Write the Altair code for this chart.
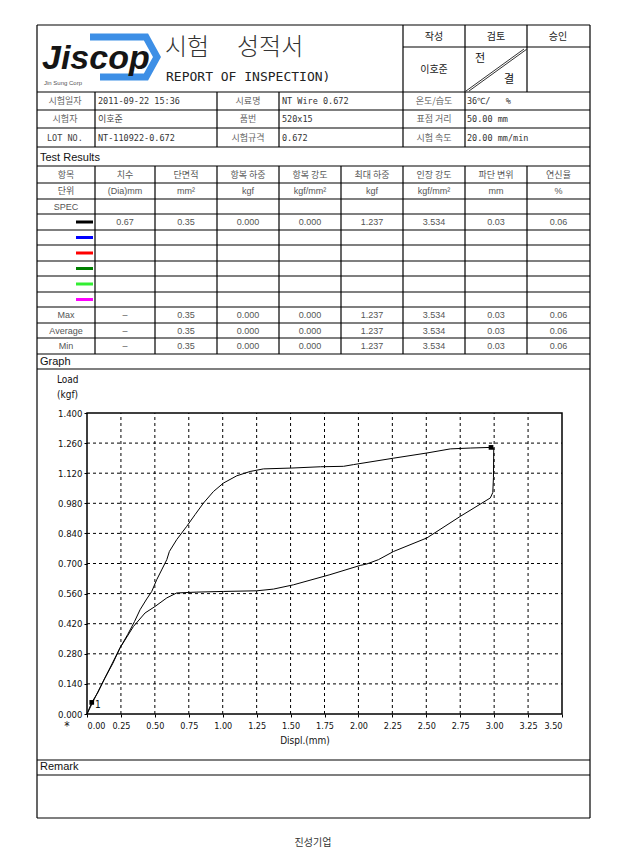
import altair as alt
import pandas as pd

# ---------------- values ----------------
disp = [0.0, 0.035, 0.08, 0.13, 0.19, 0.243, 0.30, 0.35, 0.391, 0.44, 0.477, 0.514, 0.55, 0.588,
        0.607, 0.661, 0.735, 0.796, 0.858, 0.932, 1.005, 1.104, 1.202, 1.30, 1.51, 1.72, 1.89,
        1.964, 2.26, 2.505, 2.677, 2.824, 2.977, 2.997, 2.995, 2.99, 2.972,
        2.75, 2.505, 2.259, 2.148, 2.063, 2.013, 1.79, 1.522, 1.374, 1.251, 1.005, 0.809,
        0.661, 0.588, 0.501, 0.428, 0.342, 0.243, 0.15, 0.07, 0.0]
load = [0.0, 0.054, 0.10, 0.165, 0.235, 0.307, 0.37, 0.43, 0.485, 0.535, 0.57, 0.625, 0.67, 0.718,
        0.756, 0.811, 0.873, 0.927, 0.981, 1.035, 1.074, 1.108, 1.128, 1.140, 1.144, 1.150, 1.152,
        1.160, 1.190, 1.214, 1.233, 1.237, 1.240, 1.237, 1.10, 1.03, 1.005,
        0.919, 0.819, 0.756, 0.718, 0.698, 0.691, 0.648, 0.601, 0.581, 0.573, 0.570, 0.567,
        0.563, 0.54, 0.50, 0.47, 0.407, 0.307, 0.19, 0.09, 0.0]
marker_disp = [0.035, 2.977]
marker_load = [0.054, 1.240]

x_ticks = [0.0, 0.25, 0.5, 0.75, 1.0, 1.25, 1.5, 1.75, 2.0, 2.25, 2.5, 2.75, 3.0, 3.25, 3.5]
y_ticks = [0.0, 0.14, 0.28, 0.42, 0.56, 0.70, 0.84, 0.98, 1.12, 1.26, 1.40]

table_headers = ["항목", "치수", "단면적", "항복 하중", "항복 강도", "최대 하중", "인장 강도", "파단 변위", "연신율"]
table_units = ["단위", "(Dia)mm", "mm²", "kgf", "kgf/mm²", "kgf", "kgf/mm²", "mm", "%"]
sample_values = ["0.67", "0.35", "0.000", "0.000", "1.237", "3.534", "0.03", "0.06"]
stat_names = ["Max", "Average", "Min"]
stat_values = ["–", "0.35", "0.000", "0.000", "1.237", "3.534", "0.03", "0.06"]
swatch_colors = ["#000000", "#0000ff", "#ff0000", "#008000", "#33ee33", "#ff00ff"]

info_labels = [["시험일자", "시료명", "온도/습도"],
               ["시험자", "품번", "표점 거리"],
               ["LOT NO.", "시험규격", "시험 속도"]]
info_values = [["2011-09-22 15:36", "NT Wire 0.672", "36℃/\u00a0\u00a0\u00a0%"],
               ["이호준", "520x15", "50.00 mm"],
               ["NT-110922-0.672", "0.672", "20.00 mm/min"]]
title_words = ["시험", "성적서"]

# ---------------- layout (page pixel coordinates) ----------------
W, H = 610, 848
LFT, RGT = 37, 590
col_edges = [37, 95, 155, 217, 279, 341, 403, 465, 527, 590]
col_mid = [(a + b) / 2 for a, b in zip(col_edges[:-1], col_edges[1:])]
h_full = [25, 92, 110, 128, 147, 166, 183, 199, 214, 230, 245, 261, 276, 292, 307, 323, 338,
          354, 369, 760, 775, 818]
info_y = [101, 119, 137.5]
info_label_x = [65, 248, 434]
info_value_x = [98, 282, 467]
head_y = [174.5, 191, 206.5]
sample_y = [222, 237.5, 253, 268.5, 284, 299.5]
stat_y = [315, 330.5, 346]
title_x = [165, 237]
plot_x = [79, 554]     # chart-pixel range of 0..3.5 mm
plot_y = [706, 405]    # chart-pixel range of 0..1.4 kgf

KR = "Noto Sans CJK KR"
SANS = "Liberation Sans"
MONO = "DejaVu Sans Mono"
NARROW = "'Liberation Sans Narrow', 'DejaVu Sans Condensed', 'Liberation Sans', sans-serif"

pscale_x = alt.Scale(domain=[8, 8 + W], range=[0, W], nice=False, zero=False)
pscale_y = alt.Scale(domain=[8, 8 + H], range=[0, H], nice=False, zero=False)


def PX(f):
    return alt.X(f, type="quantitative", scale=pscale_x, axis=None)


def PY(f):
    return alt.Y(f, type="quantitative", scale=pscale_y, axis=None)


def texts(rows, font, align="center", weight="normal", style="normal"):
    df = pd.DataFrame(rows, columns=["x", "y", "t", "s", "c"])
    return alt.Chart(df).mark_text(font=font, align=align, baseline="middle",
                                   fontWeight=weight, fontStyle=style).encode(
        x=PX("x"), y=PY("y"), text="t:N",
        size=alt.Size("s:Q", scale=None), color=alt.Color("c:N", scale=None))


# ---- rules of the form ----
hl = [(LFT, RGT, y, y) for y in h_full] + [(403, RGT, 47, 47)]
vl = [(LFT, LFT, 25, 818), (RGT, RGT, 25, 818)]
vl += [(x, x, 25, 92) for x in [403, 465, 527]]
vl += [(x, x, 92, 147) for x in [95, 217, 279, 403, 465]]
vl += [(x, x, 166, 354) for x in col_edges[1:-1]]
rules_df = pd.DataFrame(hl + vl, columns=["x1", "x2", "y1", "y2"])
rules = alt.Chart(rules_df).mark_rule(color="black", strokeWidth=1.2).encode(
    x=PX("x1"), x2="x2", y=PY("y1"), y2="y2")

diag_df = pd.DataFrame([(466, 524, 91, 49), (469, 527, 91, 49)], columns=["x1", "x2", "y1", "y2"])
diag = alt.Chart(diag_df).mark_rule(color="#333", strokeWidth=1).encode(
    x=PX("x1"), x2="x2", y=PY("y1"), y2="y2")

sw_df = pd.DataFrame({"x1": [76] * 6, "x2": [93] * 6, "y": sample_y, "c": swatch_colors})
swatches = alt.Chart(sw_df).mark_rule(strokeWidth=3).encode(
    x=PX("x1"), x2="x2", y=PY("y"), color=alt.Color("c:N", scale=None))

# ---- logo ----
logo_df = pd.DataFrame({"x": [90, 146, 157, 146, 100], "y": [37, 37, 57, 77, 77], "i": range(5)})
logo_band = alt.Chart(logo_df).mark_line(color="#3d8fe6", strokeWidth=7, strokeJoin="miter").encode(
    x=PX("x"), y=PY("y"), order="i:Q")
logo_text = texts([(42, 59, "Jiscop", 34, "#151515")], SANS, "left", "bold", "italic")
logo_sub = texts([(44, 83, "Jin Sung Corp", 6, "#555")], SANS, "left")

# ---- text groups ----
kr_center = [(434, 37, "작성", 10, "#222"), (496, 37, "검토", 10, "#222"), (558, 37, "승인", 10, "#222"),
             (434, 70, "이호준", 10, "#222"), (480, 59, "전", 11, "#111"), (509, 80, "결", 11, "#111"),
             (313, 843, "진성기업", 10, "#333")]
mono_left = [(166, 77, "REPORT OF INSPECTION)", 13, "#222")]
kr_left = []
title_rows = [(title_x[i], 48, w, 24, "#333") for i, w in enumerate(title_words)]
for r in range(3):
    for c in range(3):
        lab = info_labels[r][c]
        val = info_values[r][c]
        if lab.isascii():
            mono_left.append((47, info_y[r], lab, 8.5, "#444"))
        else:
            kr_center.append((info_label_x[c], info_y[r], lab, 9, "#666"))
        if val.isascii():
            mono_left.append((info_value_x[c], info_y[r], val, 8.5, "#333"))
        elif c == 0:
            kr_left.append((info_value_x[c], info_y[r], val, 9, "#444"))
        else:
            mono_left.append((info_value_x[c], info_y[r], val, 8.5, "#333"))

sans_center = []
for i, h in enumerate(table_headers):
    kr_center.append((col_mid[i], head_y[0], h, 9, "#555"))
for i, u in enumerate(table_units):
    if i == 0:
        kr_center.append((col_mid[i], head_y[1], u, 9, "#555"))
    else:
        sans_center.append((col_mid[i], head_y[1], u, 9, "#555"))
sans_center.append((col_mid[0], head_y[2], "SPEC", 9, "#555"))
for i, v in enumerate(sample_values):
    sans_center.append((col_mid[i + 1], sample_y[0], v, 9, "#555"))
for r, name in enumerate(stat_names):
    sans_center.append((col_mid[0], stat_y[r], name, 9, "#555"))
    for i, v in enumerate(stat_values):
        sans_center.append((col_mid[i + 1], stat_y[r], v, 9, "#555"))

sans_left = [(40, 158, "Test Results", 11, "#111"), (40, 362, "Graph", 11, "#111"),
             (40, 767, "Remark", 11, "#111")]
narrow_left = [(57, 380, "Load", 10, "#111"), (57, 395, "(kgf)", 10, "#111"),
               (95, 705, "1", 10, "#111")]
narrow_center = [(305, 741, "Displ.(mm)", 10, "#111"), (67, 726, "*", 12, "#111")]

page = alt.layer(
    rules, diag, swatches, logo_band, logo_text, logo_sub,
    texts(title_rows, KR, "left", 300),
    texts(kr_center, KR, "center"), texts(kr_left, KR, "left"),
    texts(mono_left, MONO, "left"), texts(sans_center, SANS, "center"),
    texts(sans_left, SANS, "left"), texts(narrow_left, NARROW, "left"),
    texts(narrow_center, NARROW, "center"),
)

# ---------------- graph ----------------
gsx = alt.Scale(domain=[0, 3.5], range=plot_x, nice=False, zero=False)
gsy = alt.Scale(domain=[0, 1.4], range=plot_y, nice=False, zero=False)
ax_x = alt.Axis(orient="bottom", values=x_ticks, format=".2f", offset=plot_y[0] - H, title=None,
                grid=False, domain=False, tickSize=3, tickColor="black", labelPadding=4,
                labelFont=NARROW, labelFontSize=9, labelColor="#111")
ax_y = alt.Axis(orient="left", values=y_ticks, format=".3f", offset=-plot_x[0], title=None,
                grid=False, domain=False, tickSize=3, tickColor="black", labelPadding=2,
                labelFont=NARROW, labelFontSize=9.5, labelColor="#111")


def GX(f):
    return alt.X(f, type="quantitative", scale=gsx, axis=ax_x)


def GY(f):
    return alt.Y(f, type="quantitative", scale=gsy, axis=ax_y)


vgrid = alt.Chart(pd.DataFrame({"v": x_ticks[1:-1], "lo": 0.0, "hi": 1.4})).mark_rule(
    color="black", strokeWidth=1, strokeDash=[3, 3]).encode(x=GX("v"), y=GY("lo"), y2="hi")
hgrid = alt.Chart(pd.DataFrame({"v": y_ticks[1:-1], "lo": 0.0, "hi": 3.5})).mark_rule(
    color="black", strokeWidth=1, strokeDash=[3, 3]).encode(y=GY("v"), x=GX("lo"), x2="hi")
frame = alt.Chart(pd.DataFrame({"a": [0.0], "b": [3.5], "c": [0.0], "d": [1.4]})).mark_rect(
    fillOpacity=0, stroke="black", strokeWidth=1.5).encode(x=GX("a"), x2="b", y=GY("c"), y2="d")
curve_df = pd.DataFrame({"d": disp, "l": load, "i": range(len(disp))})
curve = alt.Chart(curve_df).mark_line(color="black", strokeWidth=1).encode(
    x=GX("d"), y=GY("l"), order="i:Q")
marks = alt.Chart(pd.DataFrame({"d": marker_disp, "l": marker_load})).mark_point(
    filled=True, color="black", size=22, shape="square", opacity=1).encode(x=GX("d"), y=GY("l"))

graph = alt.layer(vgrid, hgrid, frame, curve, marks)

chart = alt.layer(page, graph).resolve_scale(x="independent", y="independent").properties(
    width=W, height=H, autosize=alt.AutoSizeParams(type="none"), padding=0
).configure_view(stroke=None)

chart.save("out.html", embed_options={"renderer": "svg", "actions": False})
